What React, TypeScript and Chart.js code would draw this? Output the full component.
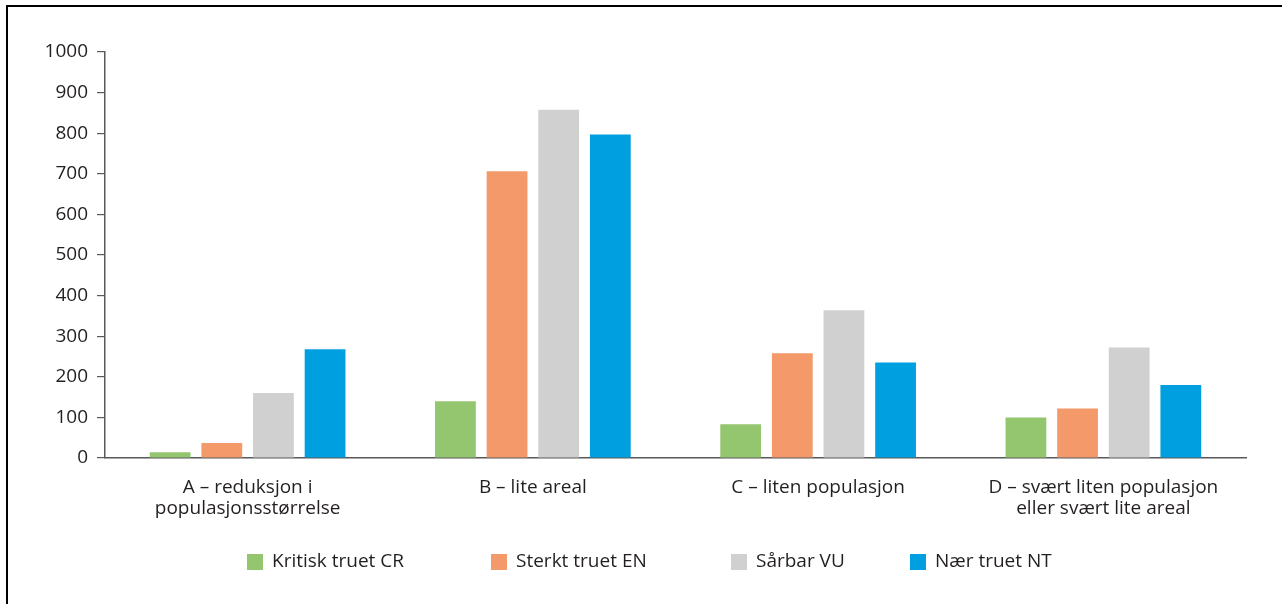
import React, { useEffect, useRef } from "react";
import { Chart, registerables } from "chart.js";

Chart.register(...registerables);

const categories: string[][] = [
  ["A – reduksjon i", "populasjonsstørrelse"],
  ["B – lite areal"],
  ["C – liten populasjon"],
  ["D – svært liten populasjon", "eller svært lite areal"],
];

const seriesNames = ["Kritisk truet CR", "Sterkt truet EN", "Sårbar VU", "Nær truet NT"];
const kritiskCR = [14, 140, 83, 100];
const sterktEN = [37, 706, 258, 122];
const sarbarVU = [160, 858, 364, 272];
const naerNT = [268, 797, 235, 180];
const seriesColors = ["#94c56f", "#f3996a", "#d0d0d0", "#009fe0"];

const yTicks = [0, 100, 200, 300, 400, 500, 600, 700, 800, 900, 1000];

const FONT = '"Open Sans", "Liberation Sans", sans-serif';
const TEXT = "#231f20";
const AXIS = "#58595b";
const LEGEND_X = [247, 491, 731, 910];
const LEGEND_Y = 562;

const legendPlugin = {
  id: "customLegend",
  afterDraw(chart: any) {
    const ctx = chart.ctx;
    ctx.save();
    ctx.font = `19px ${FONT}`;
    ctx.textBaseline = "middle";
    ctx.textAlign = "left";
    chart.data.datasets.forEach((ds: any, i: number) => {
      const x = LEGEND_X[i];
      ctx.fillStyle = ds.backgroundColor;
      ctx.fillRect(x, LEGEND_Y - 8, 16, 16);
      ctx.fillStyle = TEXT;
      ctx.fillText(ds.label, x + 25, LEGEND_Y);
    });
    ctx.restore();
  },
};

export default function App() {
  const ref = useRef<HTMLCanvasElement | null>(null);
  useEffect(() => {
    if (!ref.current) return;
    const values = [kritiskCR, sterktEN, sarbarVU, naerNT];
    const chart = new Chart(ref.current, {
      type: "bar",
      data: {
        labels: categories,
        datasets: seriesNames.map((name, i) => ({
          label: name,
          data: values[i],
          backgroundColor: seriesColors[i],
          borderWidth: 0,
          categoryPercentage: 0.724,
          barPercentage: 0.79,
        })),
      },
      options: {
        animation: false,
        responsive: false,
        maintainAspectRatio: false,
        devicePixelRatio: 1,
        layout: { padding: { left: 0, right: 36, top: 52, bottom: 0 } },
        plugins: {
          legend: { display: false },
          tooltip: { enabled: false },
        },
        scales: {
          x: {
            grid: { display: false, drawTicks: false },
            border: { display: true, color: AXIS, width: 1.5 },
            ticks: {
              color: TEXT,
              font: { family: FONT, size: 19, lineHeight: 1.12 },
              padding: 19,
              maxRotation: 0,
              autoSkip: false,
            },
            afterFit: (s: any) => {
              s.height = 146;
            },
          },
          y: {
            min: 0,
            max: 1000,
            afterBuildTicks: (s: any) => {
              s.ticks = yTicks.map((v) => ({ value: v }));
            },
            grid: {
              display: true,
              drawOnChartArea: false,
              drawTicks: true,
              tickLength: 8,
              color: AXIS,
              lineWidth: 1.2,
            },
            border: { display: true, color: AXIS, width: 1.5 },
            ticks: {
              color: TEXT,
              font: { family: FONT, size: 19 },
              padding: 9,
              callback: (v: any) => String(v),
            },
            afterFit: (s: any) => {
              s.width = 105;
            },
          },
        },
      },
      plugins: [legendPlugin],
    });
    return () => chart.destroy();
  }, []);

  return (
    <div style={{ position: "absolute", left: 0, top: 0, width: 1282, height: 604, background: "#fff", overflow: "hidden" }}>
      <canvas ref={ref} width={1282} height={604} style={{ position: "absolute", left: 0, top: 0, width: 1282, height: 604 }} />
      <div style={{ position: "absolute", left: 6, top: 5, width: 1282, height: 2, background: "#000" }} />
      <div style={{ position: "absolute", left: 6, top: 5, width: 2, height: 604, background: "#000" }} />
    </div>
  );
}
